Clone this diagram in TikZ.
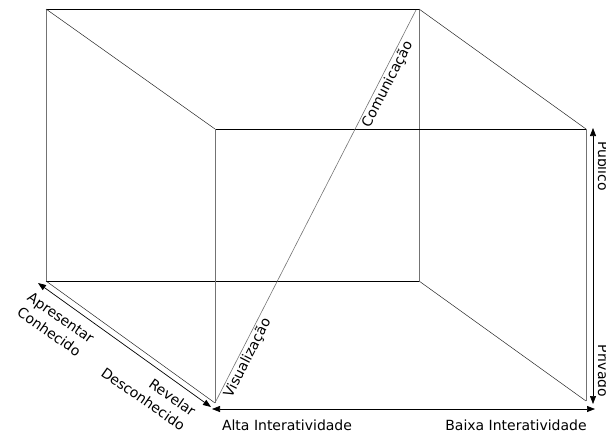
\documentclass[tikz,border=0pt]{standalone}
\usepackage{fontspec}
\setmainfont{DejaVu Sans}
\usetikzlibrary{arrows.meta}

\begin{document}
\begin{tikzpicture}[
  x=1pt,y=-1pt,
  hedge/.style={line width=0.6pt,draw=black},
  vedge/.style={line width=0.6pt,draw=black!55},
  diag/.style={line width=0.5pt,draw=black!85},
  arr/.style={{Triangle[length=8pt,width=6pt]}-{Triangle[length=8pt,width=6pt]},line width=0.7pt},
  lbl/.style={font=\fontsize{14}{18}\selectfont,inner sep=1.5pt}
]
\useasboundingbox (0,0) rectangle (606,434);
\clip (0,0) rectangle (606,434);
% corners of the two frames
\coordinate (b1) at (46,9);
\coordinate (b2) at (419,9);
\coordinate (b3) at (419,281);
\coordinate (b4) at (46,281);
\coordinate (f1) at (215,129);
\coordinate (f2) at (586,129);
\coordinate (f3) at (586,401);
\coordinate (f4) at (215,403);
% back frame
\draw[hedge] (b1)--(b2);
\draw[hedge] (b4)--(b3);
\draw[vedge] (b1)--(b4);
\draw[vedge] (b2)--(b3);
% front frame
\draw[hedge] (f1)--(f2);
\draw[vedge] (f1)--(f4);
\draw[vedge] (f2)--(f3);
% depth edges
\draw[diag] (b1)--(f1);
\draw[diag] (b2)--(f2);
\draw[diag] (b3)--(f3);
\draw[diag] (b4)--(f4);
% diagonal axis
\coordinate (v1) at (216,401);
\coordinate (c1) at (416,10);
\draw[vedge] (v1)-- node[lbl,pos=0.12,sloped,below] (vis) {Visualização}
  node[lbl,pos=0.82,sloped,below] (com) {Comunicação} (c1);
% axis arrows
\coordinate (al1) at (38,283);
\coordinate (al2) at (211,407);
\coordinate (ab1) at (212,409);
\coordinate (ab2) at (595,409);
\coordinate (ar1) at (593,128);
\coordinate (ar2) at (593,404);
\draw[arr] (al1)--(al2);
\draw[arr] (ab1)--(ab2);
\draw[arr] (ar1)--(ar2);
% axis labels
\node[lbl,rotate=-35,align=left] (apr) at (55.7,325.3) {Apresentar\\Conhecido};
\node[lbl,rotate=-35,align=right] (rev) at (148.6,391.7) {Revelar\\Desconhecido};
\node[lbl,anchor=base] (alta) at (287,430) {Alta Interatividade};
\node[lbl,anchor=base] (baixa) at (516,430) {Baixa Interatividade};
\node[lbl,rotate=-90,anchor=base] (pub) at (598,166) {Público};
\node[lbl,rotate=-90,anchor=base] (pri) at (598,371) {Privado};
\end{tikzpicture}
\end{document}
